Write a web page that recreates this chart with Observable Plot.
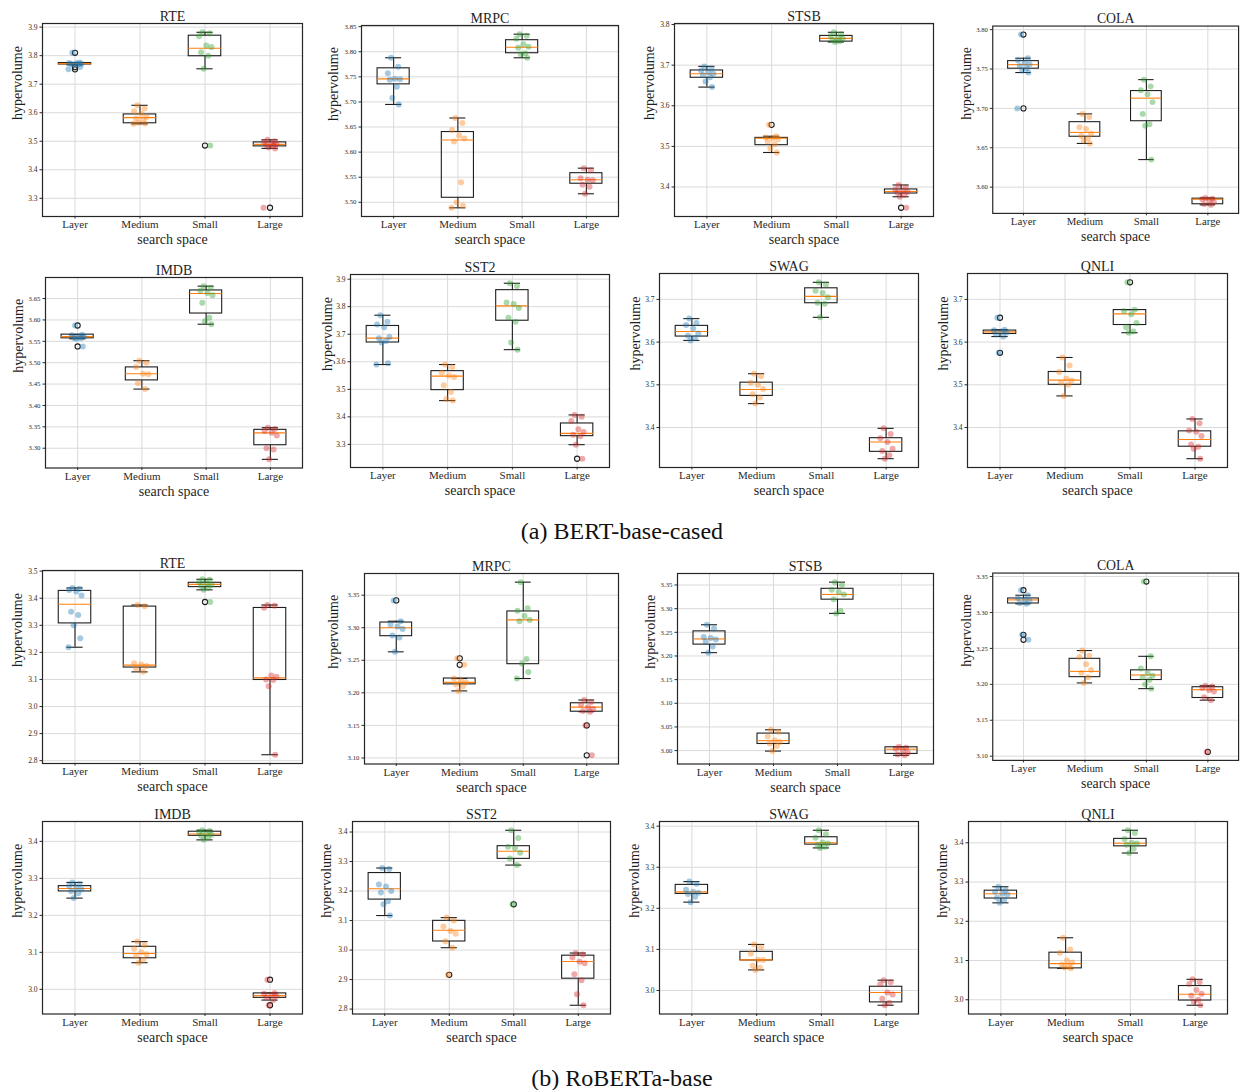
<!DOCTYPE html>
<html>
<head>
<meta charset="utf-8">
<script src="https://cdn.jsdelivr.net/npm/d3@7"></script>
<script src="https://cdn.jsdelivr.net/npm/@observablehq/plot@0.6"></script>
<style>
  body { margin: 0; background: #fff; }
  #fig { position: relative; width: 1244px; height: 1090px; overflow: hidden; background: #fff;
         font-family: "Liberation Serif", "DejaVu Serif", serif; }
  .panel { position: absolute; }
  .panel svg { overflow: visible; }
  .caption { position: absolute; left: 0; width: 1244px; text-align: center; font-size: 24px;
             line-height: 28px; color: #111; }
</style>
</head>
<body>
<div id="fig"></div>
<script>
// ---------------------------------------------------------------------------
// Hypervolume of the search spaces, per task and model (runs per search space)
// ---------------------------------------------------------------------------
const CATEGORIES = ["Layer", "Medium", "Small", "Large"];
const TASKS = ["RTE", "MRPC", "STSB", "COLA", "IMDB", "SST2", "SWAG", "QNLI"];
const MODELS = ["BERT-base-cased", "RoBERTa-base"];

// ----- BERT-base-cased -----
const bertRteRuns = [
  [3.810, 3.776, 3.774, 3.773, 3.772, 3.771, 3.770, 3.768, 3.760, 3.752],
  [3.626, 3.615, 3.605, 3.596, 3.585, 3.580, 3.575, 3.565, 3.562, 3.561],
  [3.882, 3.878, 3.868, 3.836, 3.830, 3.812, 3.800, 3.754, 3.485],
  [3.505, 3.500, 3.497, 3.492, 3.490, 3.487, 3.484, 3.478, 3.475, 3.267]
];
const bertRteBox = [[3.769, 3.772, 3.774], [3.563, 3.583, 3.594], [3.798, 3.826, 3.870], [3.482, 3.489, 3.496]];
const bertRteTicks = ["3.3", "3.4", "3.5", "3.6", "3.7", "3.8", "3.9"];

const bertMrpcRuns = [
  [3.788, 3.770, 3.757, 3.746, 3.745, 3.744, 3.730, 3.708, 3.695],
  [3.668, 3.658, 3.644, 3.633, 3.627, 3.621, 3.540, 3.500, 3.493, 3.489],
  [3.835, 3.832, 3.826, 3.815, 3.810, 3.808, 3.797, 3.795, 3.788],
  [3.568, 3.564, 3.548, 3.545, 3.544, 3.535, 3.531, 3.517]
];
const bertMrpcBox = [[3.735, 3.746, 3.767], [3.509, 3.624, 3.640], [3.797, 3.809, 3.823], [3.537, 3.545, 3.558]];
const bertMrpcTicks = ["3.50", "3.55", "3.60", "3.65", "3.70", "3.75", "3.80", "3.85"];

const bertStsbRuns = [
  [3.697, 3.692, 3.687, 3.683, 3.679, 3.675, 3.670, 3.660, 3.646],
  [3.553, 3.525, 3.522, 3.520, 3.518, 3.512, 3.505, 3.495, 3.485],
  [3.781, 3.776, 3.772, 3.768, 3.765, 3.762, 3.759, 3.757],
  [3.405, 3.399, 3.394, 3.391, 3.388, 3.386, 3.381, 3.376, 3.349]
];
const bertStsbBox = [[3.669, 3.679, 3.687], [3.503, 3.520, 3.521], [3.758, 3.766, 3.772], [3.384, 3.389, 3.394]];
const bertStsbTicks = ["3.4", "3.5", "3.6", "3.7", "3.8"];

const bertColaRuns = [
  [3.7937, 3.7637, 3.761, 3.758, 3.756, 3.754, 3.751, 3.748, 3.7455, 3.700],
  [3.693, 3.689, 3.676, 3.674, 3.668, 3.665, 3.662, 3.659, 3.6555],
  [3.7365, 3.728, 3.723, 3.718, 3.708, 3.693, 3.680, 3.678, 3.635],
  [3.5862, 3.5855, 3.5848, 3.5835, 3.581, 3.5785, 3.5775]
];
const bertColaBox = [[3.7504, 3.7555, 3.760], [3.664, 3.6695, 3.6825], [3.6837, 3.713, 3.722], [3.5783, 3.5846, 3.5854]];
const bertColaTicks = ["3.60", "3.65", "3.70", "3.75", "3.80"];

const bertImdbRuns = [
  [3.587, 3.5656, 3.564, 3.562, 3.560, 3.558, 3.557, 3.556, 3.538],
  [3.5047, 3.500, 3.490, 3.474, 3.473, 3.452, 3.4383],
  [3.679, 3.675, 3.668, 3.663, 3.658, 3.640, 3.605, 3.597, 3.590],
  [3.348, 3.345, 3.340, 3.336, 3.330, 3.300, 3.297, 3.274]
];
const bertImdbBox = [[3.557, 3.561, 3.5656], [3.4586, 3.474, 3.489], [3.615, 3.662, 3.669], [3.307, 3.336, 3.343]];
const bertImdbTicks = ["3.30", "3.35", "3.40", "3.45", "3.50", "3.55", "3.60", "3.65"];

const bertSst2Runs = [
  [3.769, 3.745, 3.735, 3.725, 3.690, 3.685, 3.675, 3.670, 3.595, 3.590],
  [3.590, 3.580, 3.560, 3.550, 3.545, 3.515, 3.490, 3.465, 3.459],
  [3.885, 3.875, 3.815, 3.810, 3.795, 3.760, 3.745, 3.670, 3.644],
  [3.407, 3.400, 3.385, 3.355, 3.345, 3.335, 3.330, 3.299, 3.248]
];
const bertSst2Box = [[3.670, 3.686, 3.730], [3.497, 3.548, 3.566], [3.749, 3.803, 3.860], [3.330, 3.340, 3.376]];
const bertSst2Ticks = ["3.3", "3.4", "3.5", "3.6", "3.7", "3.8", "3.9"];

const bertSwagRuns = [
  [3.655, 3.645, 3.640, 3.632, 3.620, 3.615, 3.610, 3.604],
  [3.526, 3.520, 3.505, 3.500, 3.490, 3.478, 3.470, 3.456],
  [3.740, 3.735, 3.720, 3.715, 3.705, 3.692, 3.690, 3.658],
  [3.398, 3.385, 3.375, 3.366, 3.350, 3.345, 3.335, 3.327]
];
const bertSwagBox = [[3.613, 3.625, 3.638], [3.474, 3.489, 3.505], [3.691, 3.707, 3.726], [3.343, 3.366, 3.375]];
const bertSwagTicks = ["3.4", "3.5", "3.6", "3.7"];

const bertQnliRuns = [
  [3.657, 3.629, 3.628, 3.625, 3.622, 3.618, 3.613, 3.575],
  [3.564, 3.545, 3.530, 3.515, 3.510, 3.505, 3.500, 3.474],
  [3.740, 3.676, 3.673, 3.665, 3.645, 3.635, 3.625, 3.622],
  [3.420, 3.410, 3.393, 3.390, 3.380, 3.360, 3.355, 3.350, 3.327]
];
const bertQnliBox = [[3.619, 3.624, 3.627], [3.500, 3.511, 3.530], [3.640, 3.666, 3.675], [3.355, 3.372, 3.391]];
const bertQnliTicks = ["3.4", "3.5", "3.6", "3.7"];

// ----- RoBERTa-base -----
const robRteRuns = [
  [3.438, 3.435, 3.430, 3.425, 3.410, 3.350, 3.338, 3.300, 3.252, 3.219],
  [3.375, 3.370, 3.160, 3.155, 3.150, 3.140, 3.128],
  [3.470, 3.468, 3.460, 3.455, 3.450, 3.445, 3.440, 3.431, 3.386],
  [3.375, 3.372, 3.365, 3.115, 3.110, 3.100, 3.098, 3.075, 2.822]
];
const robRteBox = [[3.307, 3.378, 3.427], [3.144, 3.153, 3.369], [3.441, 3.451, 3.457], [3.098, 3.106, 3.364]];
const robRteTicks = ["2.8", "2.9", "3.0", "3.1", "3.2", "3.3", "3.4", "3.5"];

const robMrpcRuns = [
  [3.342, 3.310, 3.305, 3.302, 3.298, 3.288, 3.285, 3.263],
  [3.253, 3.243, 3.222, 3.219, 3.216, 3.213, 3.210, 3.203],
  [3.370, 3.330, 3.326, 3.318, 3.312, 3.310, 3.252, 3.245, 3.232, 3.222],
  [3.189, 3.186, 3.182, 3.178, 3.175, 3.172, 3.171, 3.150, 3.104]
];
const robMrpcBox = [[3.287, 3.300, 3.308], [3.213, 3.216, 3.222], [3.244, 3.312, 3.325], [3.171, 3.178, 3.184]];
const robMrpcTicks = ["3.10", "3.15", "3.20", "3.25", "3.30", "3.35"];

const robStsbRuns = [
  [3.266, 3.258, 3.240, 3.238, 3.235, 3.230, 3.220, 3.207],
  [3.044, 3.040, 3.030, 3.022, 3.018, 3.015, 3.010, 2.999],
  [3.356, 3.350, 3.340, 3.335, 3.330, 3.320, 3.295, 3.290],
  [3.008, 3.006, 3.004, 3.000, 2.995, 2.992, 2.990]
];
const robStsbBox = [[3.224, 3.236, 3.252], [3.014, 3.021, 3.036], [3.319, 3.330, 3.342], [2.993, 3.003, 3.007]];
const robStsbTicks = ["3.00", "3.05", "3.10", "3.15", "3.20", "3.25", "3.30", "3.35"];

const robColaRuns = [
  [3.331, 3.324, 3.320, 3.318, 3.316, 3.313, 3.312, 3.269, 3.262],
  [3.247, 3.240, 3.238, 3.228, 3.220, 3.216, 3.210, 3.202],
  [3.343, 3.239, 3.222, 3.216, 3.212, 3.210, 3.206, 3.200, 3.194],
  [3.198, 3.197, 3.195, 3.192, 3.190, 3.182, 3.178, 3.106]
];
const robColaBox = [[3.3125, 3.3175, 3.3195], [3.210, 3.218, 3.2355], [3.206, 3.213, 3.2195], [3.181, 3.1925, 3.196]];
const robColaTicks = ["3.10", "3.15", "3.20", "3.25", "3.30", "3.35"];

const robImdbRuns = [
  [3.289, 3.285, 3.280, 3.275, 3.270, 3.265, 3.260, 3.2466],
  [3.129, 3.120, 3.110, 3.100, 3.095, 3.090, 3.080, 3.072],
  [3.430, 3.428, 3.425, 3.420, 3.418, 3.415, 3.410, 3.404],
  [3.026, 2.990, 2.988, 2.985, 2.982, 2.978, 2.971, 2.957]
];
const robImdbBox = [[3.2646, 3.2726, 3.279], [3.084, 3.097, 3.115], [3.415, 3.420, 3.426], [2.977, 2.983, 2.989]];
const robImdbTicks = ["3.0", "3.1", "3.2", "3.3", "3.4"];

const robSst2Runs = [
  [3.278, 3.275, 3.222, 3.215, 3.200, 3.195, 3.165, 3.155, 3.117],
  [3.110, 3.100, 3.080, 3.065, 3.055, 3.030, 3.008, 2.916],
  [3.406, 3.380, 3.350, 3.345, 3.330, 3.310, 3.288, 3.155],
  [2.990, 2.985, 2.975, 2.960, 2.955, 2.918, 2.898, 2.850, 2.813]
];
const robSst2Box = [[3.171, 3.208, 3.261], [3.029, 3.067, 3.099], [3.309, 3.335, 3.352], [2.903, 2.961, 2.981]];
const robSst2Ticks = ["2.8", "2.9", "3.0", "3.1", "3.2", "3.3", "3.4"];

const robSwagRuns = [
  [3.265, 3.260, 3.245, 3.240, 3.238, 3.235, 3.228, 3.215],
  [3.112, 3.105, 3.090, 3.075, 3.074, 3.060, 3.055, 3.050],
  [3.390, 3.380, 3.372, 3.360, 3.358, 3.355, 3.350, 3.347],
  [3.025, 3.020, 3.015, 2.995, 2.990, 2.980, 2.970, 2.964]
];
const robSwagBox = [[3.235, 3.240, 3.257], [3.073, 3.0745, 3.094], [3.355, 3.3595, 3.373], [2.971, 2.995, 3.009]];
const robSwagTicks = ["3.0", "3.1", "3.2", "3.3", "3.4"];

const robQnliRuns = [
  [3.288, 3.280, 3.275, 3.270, 3.268, 3.260, 3.255, 3.247],
  [3.158, 3.128, 3.120, 3.100, 3.095, 3.090, 3.085, 3.082, 3.080],
  [3.432, 3.425, 3.410, 3.400, 3.398, 3.395, 3.385, 3.374],
  [3.052, 3.045, 3.040, 3.025, 3.015, 3.010, 3.000, 2.995, 2.986]
];
const robQnliBox = [[3.258, 3.270, 3.278], [3.080, 3.092, 3.120], [3.391, 3.399, 3.410], [2.998, 3.014, 3.035]];
const robQnliTicks = ["3.0", "3.1", "3.2", "3.3", "3.4"];

// ---------------------------------------------------------------------------
// Page layout: frame box of each panel [left, top, right, bottom, y-label gap]
// ---------------------------------------------------------------------------
const FRAMES = [
  [42, 23, 302, 216, 24.5], [361, 25, 618, 216, 28], [674, 23, 933, 216, 25], [993, 25.5, 1243, 216, 27],
  [45, 276.5, 302, 467, 27], [350, 274, 609, 467, 23], [659, 273, 918, 467, 24], [967, 273, 1227, 467, 24],
  [42, 570, 302, 763, 25], [364, 572.5, 618, 763, 31], [677, 572.5, 933, 763, 27], [993, 572.5, 1243, 763, 27],
  [42, 820.5, 302, 1013, 25], [352, 820.5, 610, 1013, 26], [659, 820.5, 918, 1013, 25], [968, 820.5, 1227, 1013, 26]
];
const CAPTIONS_Y = [531, 1078];

const PANELS = [
  [bertRteRuns, bertRteBox, bertRteTicks], [bertMrpcRuns, bertMrpcBox, bertMrpcTicks],
  [bertStsbRuns, bertStsbBox, bertStsbTicks], [bertColaRuns, bertColaBox, bertColaTicks],
  [bertImdbRuns, bertImdbBox, bertImdbTicks], [bertSst2Runs, bertSst2Box, bertSst2Ticks],
  [bertSwagRuns, bertSwagBox, bertSwagTicks], [bertQnliRuns, bertQnliBox, bertQnliTicks],
  [robRteRuns, robRteBox, robRteTicks], [robMrpcRuns, robMrpcBox, robMrpcTicks],
  [robStsbRuns, robStsbBox, robStsbTicks], [robColaRuns, robColaBox, robColaTicks],
  [robImdbRuns, robImdbBox, robImdbTicks], [robSst2Runs, robSst2Box, robSst2Ticks],
  [robSwagRuns, robSwagBox, robSwagTicks], [robQnliRuns, robQnliBox, robQnliTicks]
].map(([runs, box, ticks], i) => ({title: TASKS[i % 8], runs, box, ticks}));

// Styling
const FONT = "Liberation Serif, DejaVu Serif, serif";
const COLORS = ["#1f77b4", "#ff7f0e", "#2ca02c", "#d62728"];
const GRID = "#dadada";
const INK = "#1e1e1e";
// horizontal spread of the individual runs around each box (in category units)
const JITTER = [-0.04, 0.07, -0.09, 0.02, 0.10, -0.06, 0.05, -0.02, 0.08, -0.10];

function boxStats(runs, box) {
  // matplotlib-style whiskers: most extreme runs within 1.5 IQR of the box
  return box.map(([q1, med, q3], c) => {
    const iqr = q3 - q1, lo = q1 - 1.5 * iqr, hi = q3 + 1.5 * iqr;
    const inside = runs[c].filter(v => v >= lo && v <= hi);
    return {pos: c + 1, q1, med, q3, w0: d3.min(inside), w1: d3.max(inside),
            fliers: runs[c].filter(v => v < lo || v > hi)};
  });
}

function drawPanel(p, frame) {
  const [L, T, R, B, gap] = frame;
  const mL = 46, mR = 6, mT = 26, mB = 44;
  const [lo, hi] = d3.extent(p.runs.flat());
  const pad = 0.05 * (hi - lo);
  const stats = boxStats(p.runs, p.box);
  const fliers = stats.flatMap(s => s.fliers.map(v => ({pos: s.pos, v})));
  const points = p.runs.flatMap((vals, c) =>
    vals.map((v, i) => ({c, x: c + 1 + JITTER[i % JITTER.length], v})));
  const ticks = p.ticks.map(Number);
  const label = new Map(ticks.map((t, i) => [t, p.ticks[i]]));
  const tickFont = p.ticks[0].length > 3 ? 6.8 : 7.5;
  const half = 0.25, cap = 0.125;

  const svg = Plot.plot({
    width: R - L + mL + mR,
    height: B - T + mT + mB,
    marginLeft: mL, marginRight: mR, marginTop: mT, marginBottom: mB,
    style: {fontFamily: FONT, background: "transparent", color: INK},
    x: {domain: [0.5, 4.5]},
    y: {domain: [lo - pad, hi + pad]},
    color: {type: "ordinal", domain: [0, 1, 2, 3], range: COLORS},
    marks: [
      Plot.gridX([1, 2, 3, 4], {stroke: GRID, strokeOpacity: 1, strokeWidth: 1}),
      Plot.gridY(ticks, {stroke: GRID, strokeOpacity: 1, strokeWidth: 1}),
      Plot.axisX([1, 2, 3, 4], {tickFormat: d => CATEGORIES[d - 1], fontSize: 11, tickSize: 2.5,
        tickPadding: 1.5, label: null, color: "#2a2a2a"}),
      Plot.axisY(ticks, {tickFormat: d => label.get(d), fontSize: tickFont, tickSize: 2.5,
        tickPadding: 2.5, label: null, color: "#2a2a2a"}),
      // boxes
      Plot.rect(stats, {x1: d => d.pos - half, x2: d => d.pos + half, y1: "q1", y2: "q3",
        fill: "none", stroke: INK, strokeWidth: 1.1}),
      Plot.ruleX(stats, {x: "pos", y1: "w0", y2: "q1", stroke: INK, strokeWidth: 1.1}),
      Plot.ruleX(stats, {x: "pos", y1: "q3", y2: "w1", stroke: INK, strokeWidth: 1.1}),
      Plot.ruleY(stats, {y: "w0", x1: d => d.pos - cap, x2: d => d.pos + cap, stroke: INK, strokeWidth: 1.1}),
      Plot.ruleY(stats, {y: "w1", x1: d => d.pos - cap, x2: d => d.pos + cap, stroke: INK, strokeWidth: 1.1}),
      Plot.ruleY(stats, {y: "med", x1: d => d.pos - half, x2: d => d.pos + half, stroke: "#ff7f0e", strokeWidth: 1.1}),
      Plot.dot(fliers, {x: "pos", y: "v", r: 2.6, stroke: INK, strokeWidth: 1.1, fill: "none"}),
      // individual runs
      Plot.dot(points, {x: "x", y: "v", r: 3, fill: "c", fillOpacity: 0.4, stroke: null}),
      Plot.frame({stroke: "#262626", strokeWidth: 1.2}),
      // titles
      Plot.text([p.title], {frameAnchor: "top", lineAnchor: "bottom", dy: -3, fontSize: 14, fill: INK}),
      Plot.text(["hypervolume"], {frameAnchor: "left", rotate: -90, dx: -gap, lineAnchor: "middle",
        fontSize: 14, fill: INK}),
      Plot.text(["search space"], {frameAnchor: "bottom", lineAnchor: "middle", dy: 23.5,
        fontSize: 14, fill: INK})
    ]
  });
  const div = document.createElement("div");
  div.className = "panel";
  div.style.left = (L - mL) + "px";
  div.style.top = (T - mT) + "px";
  div.appendChild(svg);
  return div;
}

const fig = document.getElementById("fig");
PANELS.forEach((p, i) => fig.appendChild(drawPanel(p, FRAMES[i])));
MODELS.forEach((m, k) => {
  const cap = document.createElement("div");
  cap.className = "caption";
  cap.style.top = (CAPTIONS_Y[k] - 14) + "px";
  cap.textContent = `(${"ab"[k]}) ${m}`;
  fig.appendChild(cap);
});
</script>
</body>
</html>
